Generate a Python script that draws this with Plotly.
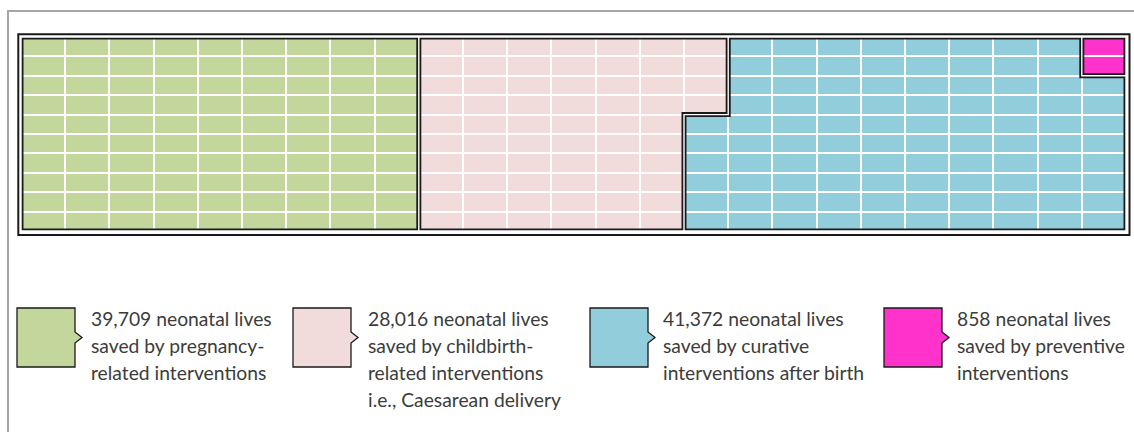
import plotly.graph_objects as go

# ---- data ----
categories = ["pregnancy", "childbirth", "curative", "preventive"]
values = [39709, 28016, 41372, 858]
colors = ["#C3D69B", "#F2DCDB", "#92CDDC", "#FF33CC"]
legend_lines = [
    ["39,709 neonatal lives", "saved by pregnancy-", "related interventions"],
    ["28,016 neonatal lives", "saved by childbirth-", "related interventions", "i.e., Caesarean delivery"],
    ["41,372 neonatal lives", "saved by curative", "interventions after birth"],
    ["858 neonatal lives", "saved by preventive", "interventions"],
]
n_cols, n_rows = 25, 10

# ---- waffle grid (serpentine column fill) ----
total = sum(values)
n_cells = n_cols * n_rows
counts = [round(v / total * n_cells) for v in values]
counts[-1] += n_cells - sum(counts)
seq = []
for i, c in enumerate(counts):
    seq += [i] * c
grid = [[0] * n_cols for _ in range(n_rows)]
k = 0
for col in range(n_cols):
    rows = range(n_rows - 1, -1, -1) if col % 2 == 0 else range(n_rows)
    for r in rows:
        grid[r][col] = seq[k]
        k += 1

# discrete colorscale
nc = len(colors)
cs = []
for i, c in enumerate(colors):
    cs.append([i / nc, c])
    cs.append([(i + 1) / nc, c])

fig = go.Figure()
fig.add_trace(go.Heatmap(
    z=grid, x=list(range(n_cols)), y=list(range(n_rows)),
    colorscale=cs, zmin=0, zmax=nc - 1, showscale=False,
    xgap=2, ygap=2, hoverinfo="skip",
))

W, H = 1134, 432
PL, PT, PW, PH = 21, 37, 1105, 194
cell_w, cell_h = PW / n_cols, PH / n_rows
ins_x, ins_y = 1.6 / cell_w, 1.6 / cell_h


def group_outline(g):
    def inside(r, c):
        return 0 <= r < n_rows and 0 <= c < n_cols and grid[r][c] == g
    edges = {}
    for r in range(n_rows):
        for c in range(n_cols):
            if not inside(r, c):
                continue
            if not inside(r - 1, c):
                edges[(c, r)] = (c + 1, r)
            if not inside(r, c + 1):
                edges[(c + 1, r)] = (c + 1, r + 1)
            if not inside(r + 1, c):
                edges[(c + 1, r + 1)] = (c, r + 1)
            if not inside(r, c - 1):
                edges[(c, r + 1)] = (c, r)
    start = next(iter(edges))
    pts = [start]
    cur = edges[start]
    while cur != start:
        pts.append(cur)
        cur = edges[cur]
    n = len(pts)
    corners = []
    for i in range(n):
        p0, p1, p2 = pts[i - 1], pts[i], pts[(i + 1) % n]
        d_in = (p1[0] - p0[0], p1[1] - p0[1])
        d_out = (p2[0] - p1[0], p2[1] - p1[1])
        if d_in == d_out:
            continue
        n_in = (-d_in[1], d_in[0])
        n_out = (-d_out[1], d_out[0])
        ox = (n_in[0] + n_out[0]) * ins_x
        oy = (n_in[1] + n_out[1]) * ins_y
        corners.append((p1[0] - 0.5 + ox, p1[1] - 0.5 + oy))
    return "M" + " L".join(f"{x:.4f},{y:.4f}" for x, y in corners) + " Z"


shapes = []
for g in range(nc):
    shapes.append(dict(type="path", path=group_outline(g), xref="x", yref="y",
                       line=dict(color="#1a1a1a", width=1.8)))


def px(x):
    return (x - PL) / PW


def py(y):
    return (PT + PH - y) / PH


# outer waffle frame
shapes.append(dict(type="rect", xref="paper", yref="paper",
                   x0=px(18.3), x1=px(1129.5), y0=py(235), y1=py(34.3),
                   line=dict(color="#1a1a1a", width=2), fillcolor="rgba(0,0,0,0)"))
# page frame
shapes.append(dict(type="path", xref="paper", yref="paper",
                   path=f"M{px(8)},{py(445)} L{px(8)},{py(11)} L{px(1145)},{py(11)}",
                   line=dict(color="#a6a6a6", width=2)))

annotations = []
box_x = [17, 293, 590, 884]
text_x = [90, 367, 662, 956]
bt, bb, bw = 308, 367, 58
for i in range(nc):
    x0 = box_x[i]
    x1 = x0 + bw
    path = (f"M{px(x0)},{py(bt)} L{px(x1)},{py(bt)} L{px(x1)},{py(332)} "
            f"L{px(x1 + 7)},{py(337.5)} L{px(x1)},{py(343)} L{px(x1)},{py(bb)} "
            f"L{px(x0)},{py(bb)} Z")
    shapes.append(dict(type="path", xref="paper", yref="paper", path=path,
                       fillcolor=colors[i], line=dict(color="#1a1a1a", width=1.3)))
    for j, t in enumerate(legend_lines[i]):
        annotations.append(dict(
            text=t, xref="paper", yref="paper", x=px(text_x[i] - 1), y=py(318.5 + 27 * j),
            xanchor="left", yanchor="middle", showarrow=False,
            font=dict(family="Lato", size=19.3, color="#3c3c3c"),
        ))

fig.update_layout(
    width=W, height=H,
    margin=dict(l=PL, r=W - PL - PW, t=PT, b=H - PT - PH),
    paper_bgcolor="white", plot_bgcolor="white",
    xaxis=dict(visible=False, range=[-0.5, n_cols - 0.5], fixedrange=True),
    yaxis=dict(visible=False, range=[n_rows - 0.5, -0.5], fixedrange=True),
    shapes=shapes, annotations=annotations, showlegend=False,
)

fig.write_html(
    "out.html",
    config={"displayModeBar": False, "staticPlot": True},
    post_script="document.body.style.margin='0';document.body.style.overflow='hidden';",
)
